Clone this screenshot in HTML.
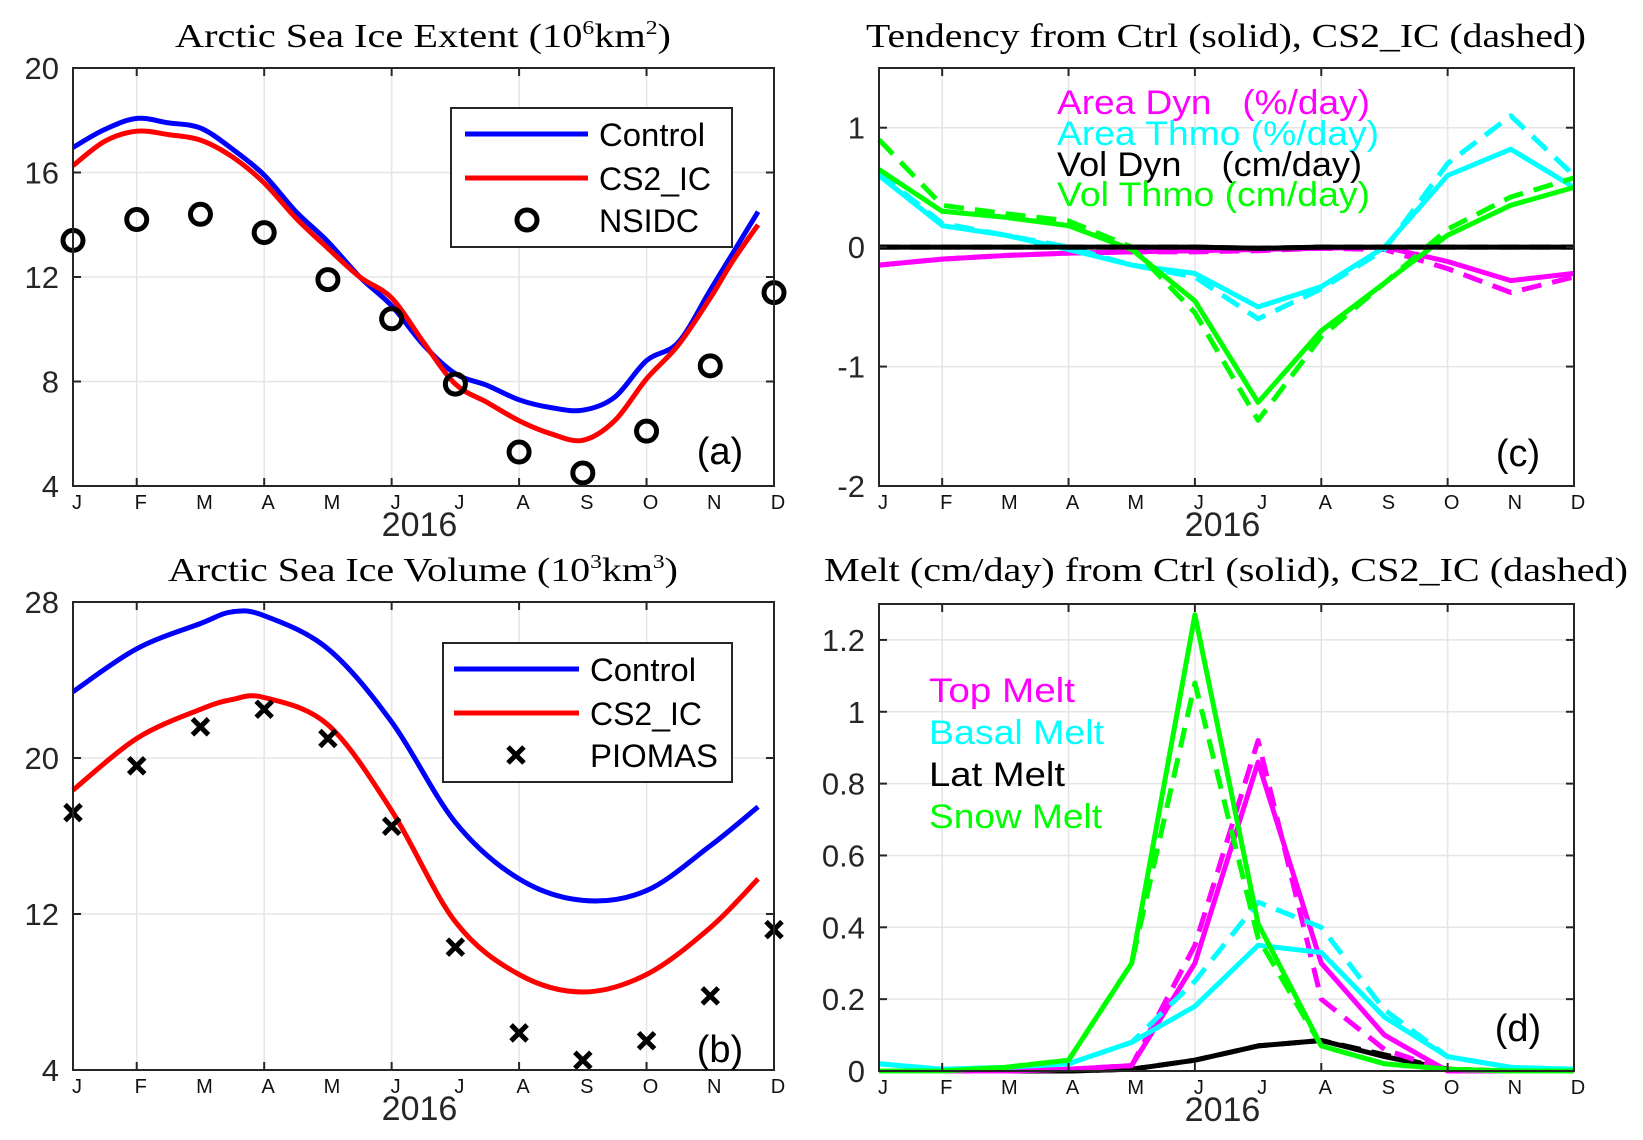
<!DOCTYPE html>
<html><head><meta charset="utf-8">
<style>
html,body{margin:0;padding:0;background:#fff;}
svg{display:block;}
</style></head>
<body>
<svg id="fig" width="1643" height="1140" xmlns="http://www.w3.org/2000/svg"></svg>
<script>
// ---- shared ----
const months = ["J","F","M","A","M","J","J","A","S","O","N","D"];
// ---- panel a: extent ----
const extX = [0,0.5,1,1.5,2,2.5,3,3.5,4,4.5,5,5.5,6,6.5,7,7.5,8,8.5,9,9.5,10,10.35,10.75];
const extControl = [16.96,17.65,18.07,17.9,17.7,16.9,15.9,14.5,13.35,12.0,10.9,9.4,8.3,7.85,7.3,7.0,6.9,7.4,8.8,9.5,11.5,12.9,14.5];
const extCS2 = [16.26,17.2,17.58,17.45,17.24,16.6,15.6,14.25,13.1,12.0,11.2,9.5,7.9,7.2,6.5,6.0,5.75,6.5,8.1,9.4,11.2,12.6,14.0];
const nsidc = [13.4,14.2,14.4,13.7,11.9,10.4,7.9,5.3,4.5,6.1,8.6,11.4];
const extTicks = [4,8,12,16,20];
// ---- panel b: volume ----
const volX = [0,1,2,2.5,3,4,5,6,7,8,9,10,10.75];
const volControl = [23.4,25.6,26.9,27.5,27.3,25.6,21.85,16.7,13.8,12.7,13.2,15.5,17.5];
const volCS2 = [18.35,21.0,22.5,23.0,23.1,21.7,17.3,11.6,8.9,8.0,8.9,11.3,13.8];
const piomas = [17.2,19.6,21.6,22.5,21.0,16.5,10.3,5.9,4.5,5.5,7.8,11.2];
const volTicks = [4,12,20,28];
// ---- panel c: tendency ----
const areaDynS = [-0.15,-0.1,-0.07,-0.05,-0.04,-0.03,-0.02,-0.01,0,-0.12,-0.28,-0.22];
const areaDynD = [-0.15,-0.1,-0.07,-0.05,-0.04,-0.04,-0.03,-0.01,-0.02,-0.18,-0.38,-0.25];
const areaThmoS = [0.6,0.18,0.1,-0.02,-0.15,-0.22,-0.5,-0.33,0,0.6,0.82,0.5];
const areaThmoD = [0.62,0.2,0.1,0,-0.15,-0.25,-0.6,-0.35,-0.02,0.7,1.1,0.6];
const volDynS = [0,0,0,0,0,0,-0.01,0,0,0,0,0];
const volDynD = [0,0,0,0,0,0,-0.01,0,0,0,0,0];
const volThmoS = [0.65,0.3,0.25,0.18,-0.02,-0.45,-1.3,-0.7,-0.3,0.1,0.35,0.5];
const volThmoD = [0.9,0.35,0.28,0.22,0,-0.55,-1.45,-0.75,-0.3,0.15,0.42,0.58];
const tendTicks = [-2,-1,0,1];
// ---- panel d: melt ----
const topMeltS = [0,0,0,0.005,0.015,0.3,0.86,0.3,0.1,0,0,0];
const topMeltD = [0,0,0,0.005,0.015,0.35,0.92,0.2,0.06,0,0,0];
const basalS = [0.02,0.005,0.01,0.02,0.08,0.18,0.35,0.33,0.15,0.04,0.01,0.005];
const basalD = [0.02,0.005,0.01,0.02,0.08,0.25,0.47,0.4,0.17,0.04,0.01,0.005];
const latS = [0,0,0,0,0.005,0.03,0.07,0.085,0.04,0.005,0,0];
const latD = [0,0,0,0,0.005,0.03,0.07,0.085,0.045,0.005,0,0];
const snowS = [0,0,0.01,0.03,0.3,1.27,0.41,0.07,0.02,0.005,0,0];
const snowD = [0,0,0.01,0.03,0.3,1.08,0.37,0.07,0.02,0.005,0,0];
const meltTicks = [0,0.2,0.4,0.6,0.8,1,1.2];

const NS="http://www.w3.org/2000/svg";
const svg=document.getElementById('fig');
function mk(tag,attrs,parent){const e=document.createElementNS(NS,tag);for(const k in attrs)e.setAttribute(k,attrs[k]);(parent||svg).appendChild(e);return e;}
const SANS='"Liberation Sans", sans-serif', SERIF='"Liberation Serif", serif';

function panel(name,L,R,T,B,ymin,ymax,ticks,title,titleX,titleY,titleW){
  const g=mk('g',{});
  
  
  const sx=m=>L+(R-L)*m/11, sy=v=>B-(B-T)*(v-ymin)/(ymax-ymin);
  for(let m=1;m<11;m+=2){const l=mk('line',{x1:sx(m),x2:sx(m),y1:T,y2:B,stroke:'#e5e5e5','stroke-width':1.5},g);}
  ticks.forEach(t=>{
    if(t!==ymin&&t!==ymax){const l=mk('line',{x1:L,x2:R,y1:sy(t),y2:sy(t),stroke:'#e5e5e5','stroke-width':1.5},g);}
    const tx=mk('text',{x:L-14,y:sy(t)+11,'text-anchor':'end','font-family':SANS,'font-size':31,fill:'#262626'},g);
    
    tx.textContent=String(t);
  });
  months.forEach((mm,i)=>{
    const tx=mk('text',{x:sx(i)+4,y:B+23,'text-anchor':'middle','font-family':SANS,'font-size':20,fill:'#111'},g);
    
    tx.textContent=mm;
  });
  const yr=mk('text',{x:(L+R)/2-4,y:B+50,'text-anchor':'middle','font-family':SANS,'font-size':34,fill:'#262626'},g);
  yr.textContent='2016';
  const ti=mk('text',{x:titleX-titleW/2,y:titleY,'font-family':SERIF,'font-size':34,fill:'#000',textLength:titleW,lengthAdjust:'spacingAndGlyphs'},g);
  
  ti.innerHTML=title;
  return {g,sx,sy,L,R,T,B,ticks,ymin,ymax};
}
function frame(p){
  const r=mk('rect',{x:p.L,y:p.T,width:p.R-p.L,height:p.B-p.T,fill:'none',stroke:'#262626','stroke-width':2},p.g);
  
  for(let m=1;m<11;m+=2){mk('line',{x1:p.sx(m),x2:p.sx(m),y1:p.B,y2:p.B-8,stroke:'#262626','stroke-width':2},p.g);mk('line',{x1:p.sx(m),x2:p.sx(m),y1:p.T,y2:p.T+8,stroke:'#262626','stroke-width':2},p.g);}
  p.ticks.forEach(t=>{mk('line',{x1:p.L,x2:p.L+8,y1:p.sy(t),y2:p.sy(t),stroke:'#262626','stroke-width':2},p.g);mk('line',{x1:p.R,x2:p.R-8,y1:p.sy(t),y2:p.sy(t),stroke:'#262626','stroke-width':2},p.g);});
}
function line(p,xs,ys,color,dashed,name,smooth){
  const P=ys.map((v,i)=>[p.sx(xs[i]),p.sy(v)]);
  let d='M'+P[0][0].toFixed(1)+','+P[0][1].toFixed(1);
  for(let i=0;i<P.length-1;i++){
    if(smooth){
      const p0=P[Math.max(0,i-1)],p1=P[i],p2=P[i+1],p3=P[Math.min(P.length-1,i+2)];
      const c1=[p1[0]+(p2[0]-p0[0])/6,p1[1]+(p2[1]-p0[1])/6],c2=[p2[0]-(p3[0]-p1[0])/6,p2[1]-(p3[1]-p1[1])/6];
      d+=' C'+c1.map(n=>n.toFixed(1)).join(',')+' '+c2.map(n=>n.toFixed(1)).join(',')+' '+p2.map(n=>n.toFixed(1)).join(',');
    } else d+=' L'+P[i+1][0].toFixed(1)+','+P[i+1][1].toFixed(1);
  }
  const a={d:d,fill:'none',stroke:color,'stroke-width':5,'stroke-linejoin':'round'};
  if(dashed)a['stroke-dasharray']='20 11';
  const e=mk('path',a,p.g);
  
  return e;
}
function label(p,x,y,txt,color,size,name,anchor,w){
  const t=mk('text',{x:x,y:y,'font-family':SANS,'font-size':size,fill:color,'text-anchor':anchor||'start'},p.g);
  
  t.setAttribute('xml:space','preserve');t.style.whiteSpace='pre';
  if(w){t.setAttribute('textLength',w);t.setAttribute('lengthAdjust','spacingAndGlyphs');}
  t.textContent=txt;return t;
}
const mIdx=months.map((_,i)=>i);

// Panel a
const pa=panel('panel-a-extent',73,774,68,486,4,20,extTicks,'Arctic Sea Ice Extent (10<tspan font-size="20" dy="-13">6</tspan><tspan dy="13">km</tspan><tspan font-size="20" dy="-13">2</tspan><tspan dy="13">)</tspan>',423,47,496);
line(pa,extX,extControl,'#0000ff',false,'control-extent-line',true);
line(pa,extX,extCS2,'#ff0000',false,'cs2ic-extent-line',true);
nsidc.forEach((v,i)=>{const c=mk('circle',{cx:pa.sx(i),cy:pa.sy(v),r:10,fill:'none',stroke:'#000','stroke-width':5},pa.g);});
frame(pa);
{const lg=mk('g',{},pa.g);
mk('rect',{x:451,y:108,width:281,height:139,fill:'#fff',stroke:'#262626','stroke-width':2},lg);
mk('line',{x1:465,x2:588,y1:134,y2:134,stroke:'#0000ff','stroke-width':5},lg);
mk('line',{x1:465,x2:588,y1:178,y2:178,stroke:'#ff0000','stroke-width':5},lg);
mk('circle',{cx:527,cy:220,r:10,fill:'none',stroke:'#000','stroke-width':5},lg);
label(pa,599,146,'Control','#000',32,'legend-entry-control',null,106);
label(pa,599,190,'CS2_IC','#000',32,'legend-entry-cs2ic',null,112);
label(pa,599,232,'NSIDC','#000',32,'legend-entry-nsidc',null,100);}
label(pa,720,464,'(a)','#000',38,'panel-label-a','middle');

// Panel b
const pb=panel('panel-b-volume',73,774,602,1070,4,28,volTicks,'Arctic Sea Ice Volume (10<tspan font-size="20" dy="-13">3</tspan><tspan dy="13">km</tspan><tspan font-size="20" dy="-13">3</tspan><tspan dy="13">)</tspan>',423,581,510);
line(pb,volX,volControl,'#0000ff',false,'control-volume-line',true);
line(pb,volX,volCS2,'#ff0000',false,'cs2ic-volume-line',true);
piomas.forEach((v,i)=>{const x=pb.sx(i),y=pb.sy(v);const e=mk('path',{d:`M${x-8},${y-8}L${x+8},${y+8}M${x-8},${y+8}L${x+8},${y-8}`,stroke:'#000','stroke-width':5},pb.g);});
frame(pb);
{const lg=mk('g',{},pb.g);
mk('rect',{x:443,y:643,width:289,height:139,fill:'#fff',stroke:'#262626','stroke-width':2},lg);
mk('line',{x1:454,x2:579,y1:669,y2:669,stroke:'#0000ff','stroke-width':5},lg);
mk('line',{x1:454,x2:579,y1:713,y2:713,stroke:'#ff0000','stroke-width':5},lg);
mk('path',{d:'M508,747L524,763M508,763L524,747',stroke:'#000','stroke-width':5},lg);
label(pb,590,681,'Control','#000',32,'legend-entry-control',null,106);
label(pb,590,725,'CS2_IC','#000',32,'legend-entry-cs2ic',null,112);
label(pb,590,767,'PIOMAS','#000',32,'legend-entry-piomas',null,128);}
label(pb,720,1062,'(b)','#000',38,'panel-label-b','middle');

// Panel c
const pc=panel('panel-c-tendency',879,1574,68,486,-2,1.5,tendTicks,'Tendency from Ctrl (solid), CS2_IC (dashed)',1226,47,720);
line(pc,mIdx,areaDynS,'#ff00ff',false,'area-dyn-ctrl');
line(pc,mIdx,areaDynD,'#ff00ff',true,'area-dyn-cs2ic');
line(pc,mIdx,areaThmoS,'#00ffff',false,'area-thmo-ctrl');
line(pc,mIdx,areaThmoD,'#00ffff',true,'area-thmo-cs2ic');
line(pc,mIdx,volThmoS,'#00ff00',false,'vol-thmo-ctrl');
line(pc,mIdx,volThmoD,'#00ff00',true,'vol-thmo-cs2ic');
line(pc,mIdx,volDynS,'#000000',false,'vol-dyn-ctrl');
line(pc,mIdx,volDynD,'#000000',true,'vol-dyn-cs2ic');
frame(pc);
label(pc,1057,114,'Area Dyn   (%/day)','#ff00ff',34,'legend-area-dyn',null,313);
label(pc,1057,145,'Area Thmo (%/day)','#00ffff',34,'legend-area-thmo',null,322);
label(pc,1057,176,'Vol Dyn    (cm/day)','#000',34,'legend-vol-dyn',null,305);
label(pc,1057,206,'Vol Thmo (cm/day)','#00ff00',34,'legend-vol-thmo',null,313);
label(pc,1518,466,'(c)','#000',38,'panel-label-c','middle');

// Panel d
const pd=panel('panel-d-melt',879,1574,604,1071,0,1.3,meltTicks,'Melt (cm/day) from Ctrl (solid), CS2_IC (dashed)',1226,581,804);
line(pd,mIdx,latS,'#000000',false,'lat-melt-ctrl');
line(pd,mIdx,latD,'#000000',true,'lat-melt-cs2ic');
line(pd,mIdx,topMeltS,'#ff00ff',false,'top-melt-ctrl');
line(pd,mIdx,topMeltD,'#ff00ff',true,'top-melt-cs2ic');
line(pd,mIdx,basalS,'#00ffff',false,'basal-melt-ctrl');
line(pd,mIdx,basalD,'#00ffff',true,'basal-melt-cs2ic');
line(pd,mIdx,snowS,'#00ff00',false,'snow-melt-ctrl');
line(pd,mIdx,snowD,'#00ff00',true,'snow-melt-cs2ic');
frame(pd);
label(pd,929,702,'Top Melt','#ff00ff',34,'legend-top-melt',null,146);
label(pd,929,744,'Basal Melt','#00ffff',34,'legend-basal-melt',null,175);
label(pd,929,786,'Lat Melt','#000',34,'legend-lat-melt',null,136);
label(pd,929,828,'Snow Melt','#00ff00',34,'legend-snow-melt',null,173);
label(pd,1518,1041,'(d)','#000',38,'panel-label-d','middle');
</script>
</body></html>
